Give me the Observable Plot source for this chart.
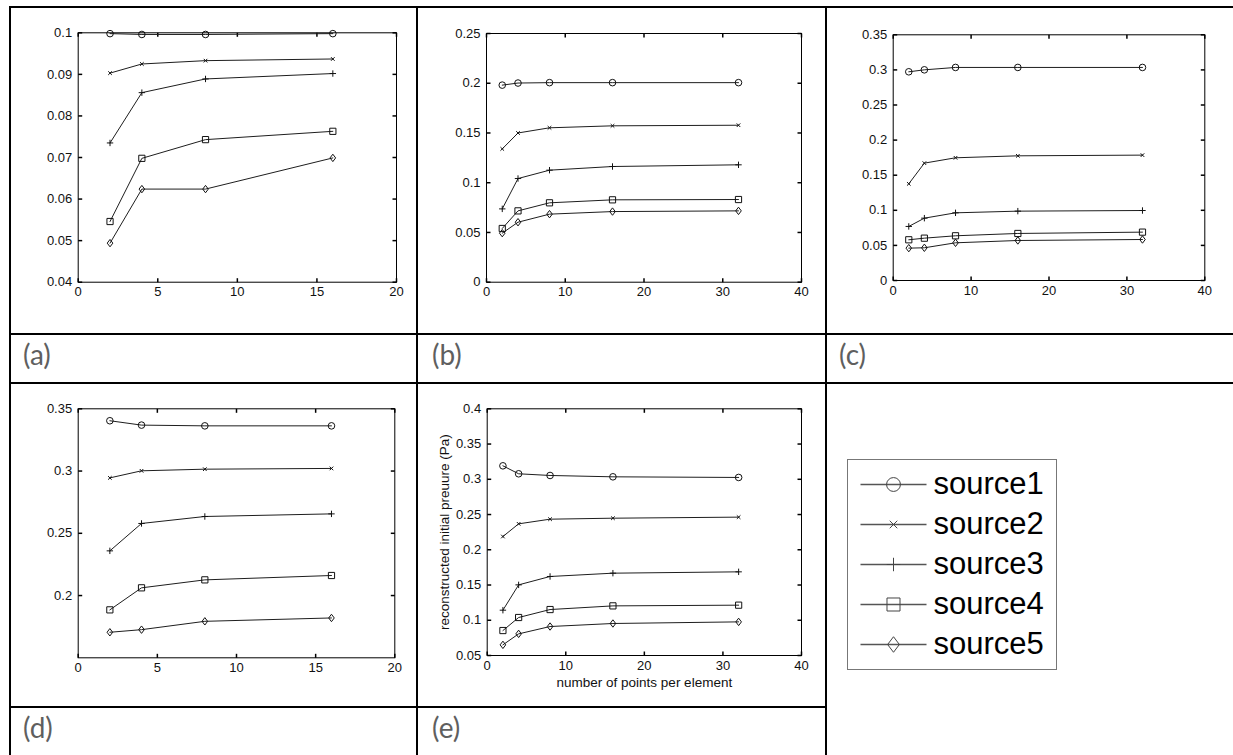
<!DOCTYPE html>
<html><head><meta charset="utf-8">
<script src="https://cdn.jsdelivr.net/npm/d3@7"></script>
<script src="https://cdn.jsdelivr.net/npm/@observablehq/plot@0.6"></script>
<style>
html,body{margin:0;padding:0;background:#fff;}
#page{position:relative;width:1233px;height:755px;overflow:hidden;background:#fff;}
.ln{position:absolute;background:#000;}
.lab{position:absolute;font-family:Lato,"Open Sans",sans-serif;font-size:28px;color:#5f5f5f;line-height:1;white-space:nowrap;}
</style></head><body><div id="page"></div>
<script>
// ---------- data ----------
const seriesNames = ["source1", "source2", "source3", "source4", "source5"];
const xShort = [2, 4, 8, 16];
const xLong = [2, 4, 8, 16, 32];

const valuesA = [
  [0.0998, 0.0996, 0.0996, 0.0998],
  [0.0903, 0.0925, 0.0933, 0.0937],
  [0.0735, 0.0856, 0.0889, 0.0902],
  [0.0546, 0.0698, 0.0743, 0.0763],
  [0.0494, 0.0624, 0.0624, 0.0699]
];
const valuesB = [
  [0.1981, 0.2002, 0.2006, 0.2006, 0.2006],
  [0.1340, 0.1500, 0.1552, 0.1572, 0.1578],
  [0.0737, 0.1042, 0.1126, 0.1163, 0.1180],
  [0.0540, 0.0717, 0.0798, 0.0828, 0.0831],
  [0.0493, 0.0603, 0.0684, 0.0710, 0.0717]
];
const valuesC = [
  [0.2973, 0.3001, 0.3035, 0.3035, 0.3035],
  [0.1377, 0.1672, 0.1748, 0.1776, 0.1786],
  [0.0770, 0.0888, 0.0964, 0.0988, 0.0997],
  [0.0580, 0.0603, 0.0637, 0.0670, 0.0689],
  [0.0461, 0.0466, 0.0537, 0.0570, 0.0584]
];
const valuesD = [
  [0.3404, 0.3369, 0.3363, 0.3363],
  [0.2945, 0.3002, 0.3015, 0.3021],
  [0.2359, 0.2579, 0.2635, 0.2656],
  [0.1885, 0.2062, 0.2126, 0.2161],
  [0.1705, 0.1726, 0.1793, 0.1820]
];
const valuesE = [
  [0.3191, 0.3078, 0.3054, 0.3035, 0.3026],
  [0.2188, 0.2368, 0.2434, 0.2448, 0.2463],
  [0.1143, 0.1502, 0.1621, 0.1668, 0.1687],
  [0.0854, 0.1039, 0.1152, 0.1204, 0.1214],
  [0.0651, 0.0807, 0.0911, 0.0954, 0.0977]
];

const xTicks20 = [0, 5, 10, 15, 20];
const xTicks40 = [0, 10, 20, 30, 40];
const yTicksA = [0.04, 0.05, 0.06, 0.07, 0.08, 0.09, 0.1];
const yTicksB = [0, 0.05, 0.1, 0.15, 0.2, 0.25];
const yTicksC = [0, 0.05, 0.1, 0.15, 0.2, 0.25, 0.3, 0.35];
const yTicksD = [0.2, 0.25, 0.3, 0.35];
const yTicksE = [0.05, 0.1, 0.15, 0.2, 0.25, 0.3, 0.35, 0.4];
const yDomainA = [0.04, 0.1];
const yDomainB = [0, 0.25];
const yDomainC = [0, 0.35];
const yDomainD = [0.15, 0.35];
const yDomainE = [0.05, 0.4];

const panelLabels = ["(a)", "(b)", "(c)", "(d)", "(e)"];
const yLabelE = "reconstructed initial preuure (Pa)";
const xLabelE = "number of points per element";

// ---------- layout ----------
const page = document.getElementById("page");
function line(l, t, w, h) {
  const d = document.createElement("div");
  d.className = "ln";
  Object.assign(d.style, {left: l + "px", top: t + "px", width: w + "px", height: h + "px"});
  page.appendChild(d);
}
// table grid
line(9, 6, 1224, 2);
line(9, 333, 1224, 2);
line(9, 382, 1224, 2);
line(9, 706, 818, 2);
line(9, 6, 2, 749);
line(416, 6, 2, 749);
line(825, 6, 2, 749);

const labelPos = [[23, 340], [432, 340], [839, 340], [23, 713], [432, 713]];
panelLabels.forEach((t, i) => {
  const d = document.createElement("div");
  d.className = "lab";
  d.textContent = t;
  d.style.left = labelPos[i][0] + "px";
  d.style.top = labelPos[i][1] + "px";
  page.appendChild(d);
});

// ---------- symbols ----------
function markerSymbols(k) {
  return [
    {draw(c) { const r = 3.3 * k; c.moveTo(r, 0); c.arc(0, 0, r, 0, 2 * Math.PI); }},
    {draw(c) { const r = 1.8 * k; c.moveTo(-r, -r); c.lineTo(r, r); c.moveTo(-r, r); c.lineTo(r, -r); }},
    {draw(c) { const r = 3.2 * k; c.moveTo(-r, 0); c.lineTo(r, 0); c.moveTo(0, -r); c.lineTo(0, r); }},
    {draw(c) { const r = 3.1 * k; c.moveTo(-r, -r); c.lineTo(r, -r); c.lineTo(r, r); c.lineTo(-r, r); c.closePath(); }},
    {draw(c) { const w = 2.8 * k, h = 3.7 * k; c.moveTo(0, -h); c.lineTo(w, 0); c.lineTo(0, h); c.lineTo(-w, 0); c.closePath(); }}
  ];
}
const TL = 4;
const tickL = {draw(c) { c.moveTo(0, 0); c.lineTo(TL, 0); }};
const tickR = {draw(c) { c.moveTo(0, 0); c.lineTo(-TL, 0); }};
const tickB = {draw(c) { c.moveTo(0, 0); c.lineTo(0, -TL); }};
const tickT = {draw(c) { c.moveTo(0, 0); c.lineTo(0, TL); }};
const fmt = d => String(+(+d).toFixed(4));
const FONT = "'Liberation Sans', Arial, sans-serif";

function panel(p) {
  const rows = [];
  p.values.forEach((arr, si) => arr.forEach((v, i) => rows.push({series: seriesNames[si], x: p.xs[i], y: v})));
  const syms = markerSymbols(1);
  const marks = [
    Plot.dot(p.yTicks, {y: d => d, frameAnchor: "left", symbol: tickL, stroke: "#000", fill: "none"}),
    Plot.dot(p.yTicks, {y: d => d, frameAnchor: "right", symbol: tickR, stroke: "#000", fill: "none"}),
    Plot.dot(p.xTicks, {x: d => d, frameAnchor: "bottom", symbol: tickB, stroke: "#000", fill: "none"}),
    Plot.dot(p.xTicks, {x: d => d, frameAnchor: "top", symbol: tickT, stroke: "#000", fill: "none"}),
    Plot.axisY(p.yTicks, {tickSize: 0, tickPadding: 6, tickFormat: fmt, label: null, fill: "#111",
      fontSize: 13, fontFamily: FONT}),
    Plot.axisX(p.xTicks, {tickSize: 0, tickPadding: 5, tickFormat: fmt, label: null, fill: "#111",
      fontSize: 13, fontFamily: FONT}),
    Plot.line(rows, {x: "x", y: "y", z: "series", stroke: "#1e1e1e", strokeWidth: 1}),
    ...seriesNames.map((s, i) => Plot.dot(rows.filter(d => d.series === s),
      {x: "x", y: "y", symbol: syms[i], stroke: "#111", fill: "none", strokeWidth: 1})),
    Plot.frame({stroke: "#000", strokeWidth: 1})
  ];
  if (p.yLabel) marks.push(Plot.text([p.yLabel], {frameAnchor: "left", dx: -43, rotate: -90, text: d => d,
    textAnchor: "middle", lineAnchor: "middle", fontSize: 13.5, fontFamily: FONT, fill: "#111"}));
  if (p.xLabel) marks.push(Plot.text([p.xLabel], {frameAnchor: "bottom", dy: 27, text: d => d,
    textAnchor: "middle", lineAnchor: "middle", fontSize: 13.5, fontFamily: FONT, fill: "#111"}));
  const svg = Plot.plot({
    width: p.box[2], height: p.box[3],
    marginLeft: p.m[0], marginRight: p.m[1], marginTop: p.m[2], marginBottom: p.m[3],
    x: {domain: p.xDomain},
    y: {domain: p.yDomain},
    style: {"font-family": FONT, "font-size": "13px", "background": "transparent", "overflow": "visible"},
    marks
  });
  Object.assign(svg.style, {position: "absolute", left: p.box[0] + "px", top: p.box[1] + "px", maxWidth: "none"});
  page.appendChild(svg);
}

panel({values: valuesA, xs: xShort, xDomain: [0, 20], yDomain: yDomainA, xTicks: xTicks20, yTicks: yTicksA,
  box: [11, 8, 405, 324], m: [66.7, 20, 24.3, 50.3]});
panel({values: valuesB, xs: xLong, xDomain: [0, 40], yDomain: yDomainB, xTicks: xTicks40, yTicks: yTicksB,
  box: [418, 8, 407, 324], m: [68, 24, 25, 50.3]});
panel({values: valuesC, xs: xLong, xDomain: [0, 40], yDomain: yDomainC, xTicks: xTicks40, yTicks: yTicksC,
  box: [827, 8, 406, 324], m: [65.7, 28.7, 26.3, 52]});
panel({values: valuesD, xs: xShort, xDomain: [0, 20], yDomain: yDomainD, xTicks: xTicks20, yTicks: yTicksD,
  box: [11, 384, 405, 322], m: [66.7, 21.7, 24.3, 48.7]});
panel({values: valuesE, xs: xLong, xDomain: [0, 40], yDomain: yDomainE, xTicks: xTicks40, yTicks: yTicksE,
  box: [418, 384, 407, 322], m: [68.7, 24, 24.3, 51], yLabel: yLabelE, xLabel: xLabelE});

// ---------- legend ----------
(function legend() {
  const syms = markerSymbols(2.1);
  const seg = {draw(c) { c.moveTo(-33, 0); c.lineTo(33, 0); }};
  const svg = Plot.plot({
    width: 211, height: 212, margin: 1,
    x: {domain: [0, 1], axis: null},
    y: {type: "point", domain: seriesNames, range: [24.7, 187.3], padding: 0, axis: null},
    style: {"font-family": FONT, "background": "transparent", "overflow": "visible"},
    marks: [
      Plot.frame({stroke: "#777", strokeWidth: 1}),
      Plot.dot(seriesNames, {y: d => d, frameAnchor: "left", dx: 46, symbol: seg, stroke: "#555", fill: "none"}),
      ...seriesNames.map((s, i) => Plot.dot([s], {y: d => d, frameAnchor: "left", dx: 46, symbol: syms[i],
        stroke: "#444", fill: "none", strokeWidth: 1})),
      Plot.text(seriesNames, {y: d => d, frameAnchor: "left", dx: 86, text: d => d, textAnchor: "start",
        lineAnchor: "middle", fontSize: 31, fontFamily: FONT, fill: "#000"})
    ]
  });
  Object.assign(svg.style, {position: "absolute", left: "846px", top: "458px", maxWidth: "none"});
  page.appendChild(svg);
})();
</script>
</body></html>
